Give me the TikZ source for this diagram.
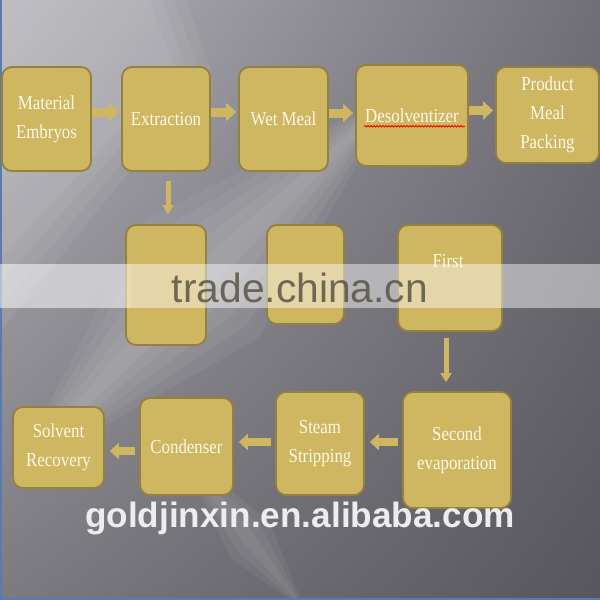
\documentclass[tikz,border=0pt]{standalone}
\usepackage{fontspec}
\setmainfont[FakeStretch=0.85]{Liberation Serif}
\newfontfamily\wmfont{Liberation Sans}
\usetikzlibrary{arrows.meta,decorations.pathmorphing,shadings}
\definecolor{boxgold}{HTML}{CFB661}
\definecolor{boxedge}{HTML}{94803F}
\definecolor{boxtext}{HTML}{FBF7E6}
\definecolor{bglight}{HTML}{B3B2B9}
\definecolor{bgmid}{HTML}{7B7A80}
\definecolor{bgdark}{HTML}{58565D}
\definecolor{wmdark}{HTML}{5A5444}
\definecolor{edgeblue}{HTML}{5A7BAE}
\newlength{\pix}
\setlength{\pix}{0.025cm}
\tikzset{
  stage/.style={draw=boxedge, line width=1.8\pix, fill=boxgold, rounded corners=10\pix,
    text=boxtext, align=center, inner sep=0pt,
    font=\fontsize{14.1pt}{20.8pt}\selectfont},
  stagetext/.style={text=boxtext, inner sep=0pt, font=\fontsize{14.1pt}{20.8pt}\selectfont},
  glow/.style={fill=white, opacity=0.05},
  flowright/.style={draw=boxgold, line width=9\pix, -{Triangle[length=7.1pt,width=12.8pt]},
    shorten >=2\pix},
  flowdown/.style={draw=boxgold, line width=5\pix, -{Triangle[length=6.4pt,width=7.8pt]}},
  flowleft/.style={draw=boxgold, line width=8\pix, -{Triangle[length=6.4pt,width=11.4pt]},
    shorten <=4\pix, shorten >=5\pix}
}
\begin{document}
\begin{tikzpicture}[x=0.025cm, y=-0.025cm]
\useasboundingbox (0,0) rectangle (600,600);

\shade[upper left=bglight, upper right=bgdark!85!white, lower left=bgmid, lower right=bgdark]
  (0,0) rectangle (600,600);
\foreach \w in {0,12,24,36}
  \fill[glow] (0,0) -- (150+\w,0) -- (175+\w,70) -- (0,260+2*\w) -- cycle;
\foreach \w in {10,22,34,46,58}
  \fill[glow] (400,90) -- (200+\w,280+\w) -- (10,480) -- (200-\w,280-\w) -- cycle;
\foreach \w in {5,12,19}
  \fill[glow] (180,450) -- (250+\w,540-\w) -- (305,610) -- (250-\w,540+\w) -- cycle;
\draw[edgeblue, line width=2\pix] (1,0) -- (1,599) -- (600,599);

\node[stage, minimum width=89\pix, minimum height=104\pix] (emb) at (46.5,119) {Material\\Embryos};
\node[stage, minimum width=88\pix, minimum height=104\pix] (ext) at (166,119) {Extraction};
\node[stage, minimum width=89\pix, minimum height=104\pix] (wet) at (283.5,119) {Wet Meal};
\node[stage, minimum width=112\pix, minimum height=101\pix] (des) at (412,115.5) {Desolventizer};
\node[stage, minimum width=103\pix, minimum height=96\pix] (pack) at (547.5,115) {Product\\Meal\\Packing};

\node[stage, minimum width=80\pix, minimum height=120\pix] (mix) at (166,285) {};
\node[stage, minimum width=77\pix, minimum height=99\pix] (mid) at (305.5,274.5) {};
\node[stage, minimum width=104\pix, minimum height=106\pix] (first) at (450,278) {};
\node[stagetext, anchor=base] (firstlbl) at ([xshift=-2\pix,yshift=11\pix]first.center) {First};

\node[stage, minimum width=108\pix, minimum height=116\pix] (second) at (457,450) {Second\\evaporation};
\node[stage, minimum width=88\pix, minimum height=103\pix] (steam) at (320,443.5) {Steam\\Stripping};
\node[stage, minimum width=93\pix, minimum height=97\pix] (cond) at (186.5,446.5) {Condenser};
\node[stage, minimum width=91\pix, minimum height=81\pix] (recov) at (58.5,447.5) {Solvent\\Recovery};

\draw[decorate, decoration={snake, amplitude=0.6\pix, segment length=3\pix}, red, line width=1\pix]
  ([xshift=9\pix,yshift=-4\pix]des.base west) -- ([xshift=-4\pix,yshift=-4\pix]des.base east);

\coordinate (embout) at ([yshift=7\pix]emb.east);
\coordinate (extout) at ([yshift=7\pix]ext.east);
\coordinate (wetout) at ([yshift=6\pix]wet.east);
\coordinate (desout) at ([yshift=5\pix]des.east);
\coordinate (extdown) at ([xshift=2\pix]ext.south);
\coordinate (firstdown) at ([xshift=-4\pix]first.south);
\coordinate (secondout) at ([yshift=8\pix]second.west);
\coordinate (steamout) at ([yshift=1.5\pix]steam.west);
\coordinate (condout) at ([yshift=-4.5\pix]cond.west);

\draw[flowright] (embout) -- (embout -| ext.west);
\draw[flowright] (extout) -- (extout -| wet.west);
\draw[flowright] (wetout) -- (wetout -| des.west);
\draw[flowright] (desout) -- (desout -| pack.west);

\draw[flowdown, shorten <=9\pix, shorten >=10\pix] (extdown) -- (extdown |- mix.north);
\draw[flowdown, shorten <=6\pix, shorten >=9\pix] (firstdown) -- (firstdown |- second.north);

\draw[flowleft] (secondout) -- (secondout -| steam.east);
\draw[flowleft] (steamout) -- (steamout -| cond.east);
\draw[flowleft] (condout) -- (condout -| recov.east);

\fill[white, opacity=0.45] (0,264) rectangle (600,308);
\fill[white, opacity=0.15] (0,264) rectangle (130,308);
\node[anchor=base, inner sep=0pt, text=wmdark, text opacity=0.85,
  font=\wmfont\fontsize{29pt}{34pt}\selectfont] (tradewm) at (300,302) {trade.china.cn};
\node[anchor=base, inner sep=0pt, text=white!86!gray,
  font=\wmfont\bfseries\fontsize{25pt}{29pt}\selectfont] (goldwm) at (300,527) {goldjinxin.en.alibaba.com};
\end{tikzpicture}
\end{document}
